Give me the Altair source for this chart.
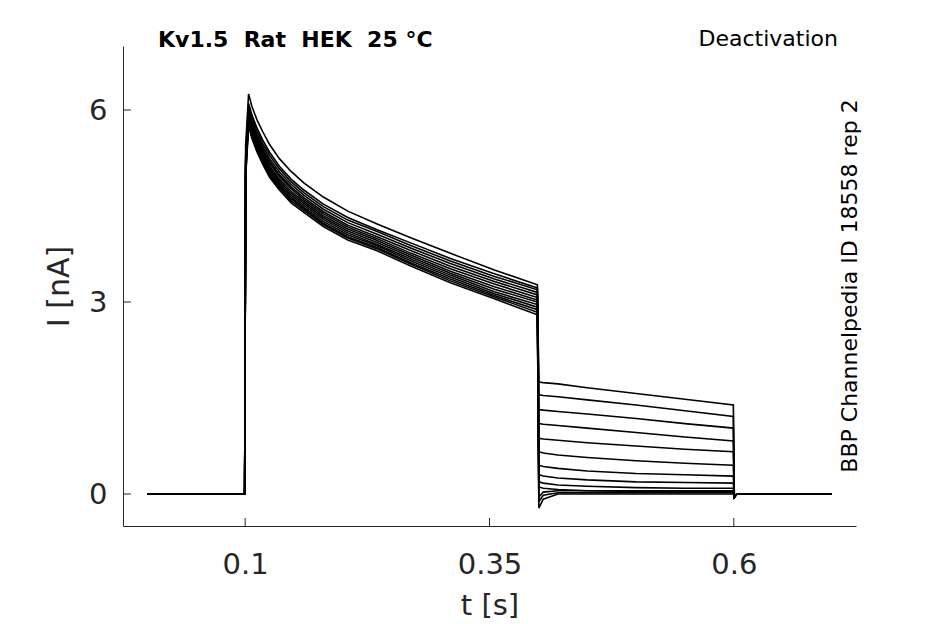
import altair as alt
import pandas as pd

# ---- data ----
t_base = [0.0, 0.0995]
t_rise = 0.1005
t_act = [0.1035, 0.107, 0.112, 0.118, 0.125, 0.135, 0.147, 0.16, 0.18, 0.205, 0.235, 0.27, 0.31, 0.355, 0.399]
t_deact = [0.4005, 0.405, 0.42, 0.45, 0.5, 0.55, 0.5995]
t_tail = [0.6005, 0.603, 0.7]

rise_vals = [5.45, 5.30, 5.25, 5.20, 5.18, 5.15, 5.12, 5.10, 5.07, 5.05, 5.02, 4.98, 4.95]

act_vals = [
    [6.25, 6.05, 5.85, 5.66, 5.46, 5.24, 5.04, 4.86, 4.64, 4.42, 4.22, 4.00, 3.76, 3.50, 3.27],
    [6.10, 5.92, 5.72, 5.53, 5.34, 5.12, 4.92, 4.75, 4.53, 4.32, 4.13, 3.92, 3.68, 3.44, 3.22],
    [6.05, 5.87, 5.67, 5.48, 5.29, 5.08, 4.88, 4.71, 4.49, 4.28, 4.10, 3.88, 3.64, 3.40, 3.19],
    [6.00, 5.82, 5.62, 5.43, 5.24, 5.03, 4.84, 4.67, 4.45, 4.24, 4.06, 3.84, 3.60, 3.36, 3.15],
    [5.98, 5.79, 5.59, 5.39, 5.20, 4.99, 4.80, 4.63, 4.41, 4.20, 4.02, 3.80, 3.56, 3.32, 3.11],
    [5.95, 5.76, 5.56, 5.36, 5.17, 4.96, 4.77, 4.60, 4.38, 4.17, 3.99, 3.76, 3.52, 3.28, 3.07],
    [5.92, 5.73, 5.53, 5.33, 5.13, 4.92, 4.73, 4.57, 4.35, 4.14, 3.96, 3.73, 3.48, 3.24, 3.03],
    [5.90, 5.70, 5.50, 5.30, 5.10, 4.89, 4.70, 4.54, 4.32, 4.11, 3.93, 3.70, 3.45, 3.20, 3.00],
    [5.87, 5.67, 5.47, 5.27, 5.07, 4.86, 4.67, 4.51, 4.29, 4.08, 3.90, 3.67, 3.42, 3.16, 2.96],
    [5.85, 5.64, 5.44, 5.24, 5.04, 4.83, 4.64, 4.48, 4.26, 4.05, 3.88, 3.64, 3.39, 3.13, 2.92],
    [5.82, 5.61, 5.41, 5.21, 5.01, 4.80, 4.61, 4.46, 4.23, 4.02, 3.85, 3.61, 3.36, 3.10, 2.88],
    [5.78, 5.58, 5.38, 5.18, 4.98, 4.78, 4.58, 4.43, 4.21, 4.00, 3.83, 3.59, 3.33, 3.08, 2.84],
    [5.75, 5.55, 5.35, 5.15, 4.95, 4.75, 4.55, 4.40, 4.18, 3.97, 3.80, 3.56, 3.30, 3.05, 2.80],
]

deact_vals = [
    [1.75, 1.74, 1.72, 1.66, 1.57, 1.48, 1.39],
    [1.55, 1.54, 1.52, 1.47, 1.39, 1.30, 1.21],
    [1.32, 1.31, 1.29, 1.25, 1.18, 1.10, 1.03],
    [1.10, 1.09, 1.07, 1.03, 0.96, 0.89, 0.83],
    [0.87, 0.86, 0.84, 0.80, 0.75, 0.70, 0.66],
    [0.66, 0.64, 0.61, 0.57, 0.52, 0.48, 0.45],
    [0.45, 0.43, 0.40, 0.36, 0.32, 0.30, 0.28],
    [0.30, 0.28, 0.25, 0.22, 0.19, 0.18, 0.17],
    [0.19, 0.17, 0.14, 0.12, 0.10, 0.09, 0.09],
    [0.11, 0.09, 0.07, 0.05, 0.04, 0.04, 0.04],
    [-0.05, 0.03, 0.05, 0.05, 0.05, 0.05, 0.05],
    [-0.12, -0.02, 0.02, 0.02, 0.02, 0.02, 0.02],
    [-0.22, -0.08, 0.00, 0.00, 0.00, 0.00, 0.00],
]

base_vals = [0.0, 0.0]
tail_vals = [-0.05, 0.0, 0.0]

x_ticks = [0.1, 0.35, 0.6]
y_ticks = [0, 3, 6]

title_text = "Kv1.5\u00a0\u00a0Rat\u00a0\u00a0HEK\u00a0\u00a025\u00a0°C"
corner_text = "Deactivation"
side_text = "BBP Channelpedia ID 18558 rep 2"

# ---- build long table ----
rows = []
for k in range(len(act_vals)):
    ts = t_base + [t_rise] + t_act + t_deact + t_tail
    vs = base_vals + [rise_vals[k]] + act_vals[k] + deact_vals[k] + tail_vals
    for i, (t, v) in enumerate(zip(ts, vs)):
        rows.append({"trace": k, "i": i, "t": t, "I": v})
df = pd.DataFrame(rows)

FONT = "DejaVu Sans"
GRAY = "#262626"

xscale = alt.Scale(domain=[-0.025, 0.725], nice=False, zero=False)
yscale = alt.Scale(domain=[-0.5, 7], nice=False, zero=False)

lines = alt.Chart(df).mark_line(color="black", strokeWidth=1.6).encode(
    x=alt.X("t:Q", scale=xscale,
            axis=alt.Axis(values=x_ticks, title="t [s]", ticks=False, grid=False,
                          labelExpr="'' + datum.value",
                          labelPadding=24, titlePadding=12, labelFontSize=29,
                          titleFontSize=29)),
    y=alt.Y("I:Q", scale=yscale,
            axis=alt.Axis(values=y_ticks, title="I [nA]", ticks=False, grid=False,
                          labelExpr="'' + datum.value",
                          labelPadding=16, titlePadding=14, labelFontSize=29,
                          titleFontSize=30)),
    detail="trace:N",
    order="i:Q",
)

xt = alt.Chart(pd.DataFrame({"v": x_ticks})).mark_rule(color=GRAY, strokeWidth=1).encode(
    x=alt.X("v:Q", scale=xscale), y=alt.value(480), y2=alt.value(472)
)
yt = alt.Chart(pd.DataFrame({"v": y_ticks})).mark_rule(color=GRAY, strokeWidth=1).encode(
    y=alt.Y("v:Q", scale=yscale), x=alt.value(0), x2=alt.value(8)
)

title_txt = alt.Chart(pd.DataFrame({"s": [title_text]})).mark_text(
    font=FONT, fontSize=22, fontWeight="bold", align="left", baseline="alphabetic", color="black"
).encode(text="s:N", x=alt.value(35), y=alt.value(1))

deact_txt = alt.Chart(pd.DataFrame({"s": [corner_text]})).mark_text(
    font=FONT, fontSize=22, align="right", baseline="alphabetic", color="black"
).encode(text="s:N", x=alt.value(715), y=alt.value(0))

side_txt = alt.Chart(pd.DataFrame({"s": [side_text]})).mark_text(
    font=FONT, fontSize=22, align="center", baseline="middle", angle=270, color="black"
).encode(text="s:N", x=alt.value(727), y=alt.value(240))

chart = alt.layer(lines, xt, yt, title_txt, deact_txt, side_txt).properties(
    width=733, height=480,
    autosize=alt.AutoSizeParams(type="none"),
    padding={"left": 115, "top": 38, "right": 80, "bottom": 96},
).configure_view(strokeWidth=0).configure_axis(
    labelFont=FONT, titleFont=FONT, labelColor=GRAY, titleColor=GRAY,
    domainColor=GRAY, domainWidth=1, titleFontWeight="normal",
)

chart.save("out.html", embed_options={"renderer": "svg", "actions": False})
